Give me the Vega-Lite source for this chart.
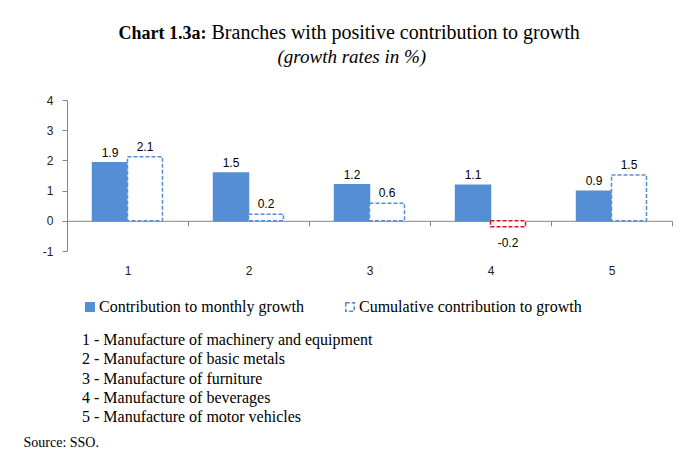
{
  "$schema": "https://vega.github.io/schema/vega-lite/v6.json",
  "autosize": "none",
  "width": 605,
  "height": 151,
  "padding": {"left": 67, "top": 100, "right": 9, "bottom": 204},
  "background": "white",
  "config": {
    "view": {"stroke": null},
    "axis": {"grid": false, "domainColor": "#868686", "tickColor": "#868686", "labelFont": "Liberation Sans", "labelFontSize": 12, "labelColor": "#222222"}
  },
  "data": {
    "values": [
      {"branch": "1", "series": "Contribution to monthly growth", "value": 1.92, "label": "1.9"},
      {"branch": "1", "series": "Cumulative contribution to growth", "value": 2.12, "label": "2.1"},
      {"branch": "2", "series": "Contribution to monthly growth", "value": 1.58, "label": "1.5"},
      {"branch": "2", "series": "Cumulative contribution to growth", "value": 0.22, "label": "0.2"},
      {"branch": "3", "series": "Contribution to monthly growth", "value": 1.19, "label": "1.2"},
      {"branch": "3", "series": "Cumulative contribution to growth", "value": 0.58, "label": "0.6"},
      {"branch": "4", "series": "Contribution to monthly growth", "value": 1.18, "label": "1.1"},
      {"branch": "4", "series": "Cumulative contribution to growth", "value": -0.2, "label": "-0.2"},
      {"branch": "5", "series": "Contribution to monthly growth", "value": 0.98, "label": "0.9"},
      {"branch": "5", "series": "Cumulative contribution to growth", "value": 1.52, "label": "1.5"}
    ]
  },
  "resolve": {"axis": {"x": "independent", "y": "independent"}},
  "layer": [
    {
      "transform": [{"filter": "datum.value >= 0"}],
      "mark": {"type": "bar", "strokeWidth": 1.5, "stroke": "#558ED5"},
      "encoding": {
        "x": {
          "field": "branch", "type": "nominal", "sort": null,
          "scale": {"domain": ["1", "2", "3", "4", "5"], "paddingInner": 0, "paddingOuter": 0},
          "axis": {
            "orient": "bottom", "offset": -30.2, "labelAngle": 0, "labelPadding": 40, "tickSize": 5, "tickBand": "extent",
            "title": "Source: SSO.", "titleFont": "Liberation Serif", "titleFontSize": 14, "titleFontWeight": "normal", "titleColor": "#000000",
            "titleX": -44, "titleY": 226, "titleAlign": "left", "titleAnchor": null, "titleBaseline": "alphabetic", "titleAngle": 0
          }
        },
        "xOffset": {
          "field": "series", "type": "nominal",
          "scale": {"domain": ["Contribution to monthly growth", "Cumulative contribution to growth"], "paddingInner": 0, "paddingOuter": 0.73}
        },
        "y": {
          "field": "value", "type": "quantitative",
          "scale": {"domain": [-1, 4], "nice": false, "zero": false},
          "axis": {
            "orient": "left", "values": [-1, 0, 1, 2, 3, 4], "tickSize": 5, "labelPadding": 9,
            "labelExpr": "replace(datum.label, '\u2212', '-')",
            "title": "Chart 1.3a:", "titleFont": "Liberation Serif", "titleFontSize": 18, "titleFontWeight": "bold", "titleColor": "#000000",
            "titleX": 51, "titleY": -62, "titleAlign": "left", "titleAnchor": null, "titleBaseline": "alphabetic", "titleAngle": 0
          }
        },
        "fill": {
          "field": "series", "type": "nominal",
          "scale": {"domain": ["Contribution to monthly growth", "Cumulative contribution to growth"], "range": ["#558ED5", "#FFFFFF"]},
          "legend": {
            "orient": "none", "legendX": 15, "legendY": 199, "direction": "horizontal",
            "symbolType": "square", "symbolSize": 72, "symbolStrokeWidth": 1.5, "symbolStrokeColor": "#558ED5",
            "labelFont": "Liberation Serif", "labelFontSize": 16, "labelColor": "#000000", "labelLimit": 400, "labelOffset": 1,
            "columnPadding": 38,
            "title": ["1 - Manufacture of machinery and equipment", "2 - Manufacture of basic metals", "3 - Manufacture of furniture", "4 - Manufacture of beverages", "5 - Manufacture of motor vehicles"],
            "titleOrient": "bottom", "titleFont": "Liberation Serif", "titleFontSize": 16, "titleFontWeight": "normal", "titleColor": "#000000",
            "titleLineHeight": 19.3, "titlePadding": 17, "titleLimit": 600, "titleAnchor": "start", "titleAlign": "left",
            "encode": {"symbols": {"update": {"stroke": {"value": "#558ED5"}}}}
          }
        },
        "strokeDash": {
          "field": "series", "type": "nominal",
          "scale": {"domain": ["Contribution to monthly growth", "Cumulative contribution to growth"], "range": [[1, 0], [4, 2]]}
        }
      }
    },
    {
      "transform": [{"filter": "datum.value < 0"}],
      "mark": {"type": "bar", "strokeWidth": 1.5, "stroke": "#D01818"},
      "encoding": {
        "x": {"field": "branch", "type": "nominal", "sort": null, "axis": null},
        "xOffset": {"field": "series", "type": "nominal"},
        "y": {"field": "value", "type": "quantitative", "axis": null},
        "fill": {"field": "series", "type": "nominal", "legend": null},
        "strokeDash": {"field": "series", "type": "nominal", "legend": null}
      }
    },
    {
      "transform": [{"filter": "datum.value >= 0"}],
      "mark": {"type": "text", "baseline": "alphabetic", "dy": -6, "font": "Liberation Sans", "fontSize": 12, "color": "#000000"},
      "encoding": {
        "x": {
          "field": "branch", "type": "nominal", "sort": null,
          "axis": {
            "orient": "top", "domain": false, "ticks": false, "labels": false,
            "title": "Branches with positive contribution to growth", "titleFont": "Liberation Serif", "titleFontSize": 20, "titleFontWeight": "normal", "titleColor": "#000000",
            "titleX": 144, "titleY": -62, "titleAlign": "left", "titleAnchor": null, "titleBaseline": "alphabetic", "titleAngle": 0
          }
        },
        "xOffset": {"field": "series", "type": "nominal"},
        "y": {
          "field": "value", "type": "quantitative",
          "axis": {
            "orient": "right", "domain": false, "ticks": false, "labels": false,
            "title": "(growth rates in %)", "titleFont": "Liberation Serif", "titleFontSize": 19, "titleFontWeight": "normal", "titleFontStyle": "italic", "titleColor": "#000000",
            "titleX": -395, "titleY": -38, "titleAlign": "left", "titleAnchor": null, "titleBaseline": "alphabetic", "titleAngle": 0
          }
        },
        "text": {"field": "label"}
      }
    },
    {
      "transform": [{"filter": "datum.value < 0"}],
      "mark": {"type": "text", "baseline": "alphabetic", "dy": 20, "font": "Liberation Sans", "fontSize": 12, "color": "#000000"},
      "encoding": {
        "x": {"field": "branch", "type": "nominal", "sort": null, "axis": null},
        "xOffset": {"field": "series", "type": "nominal"},
        "y": {"field": "value", "type": "quantitative", "axis": null},
        "text": {"field": "label"}
      }
    }
  ]
}
